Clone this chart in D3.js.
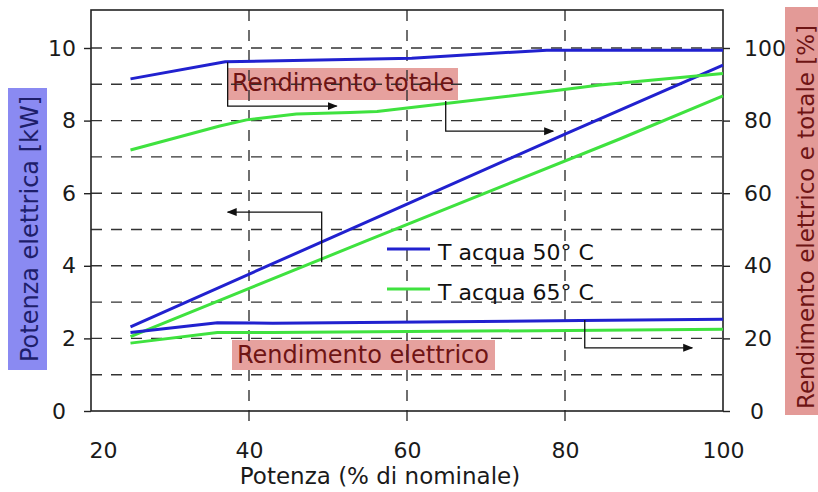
<!DOCTYPE html>
<html>
<head>
<meta charset="utf-8">
<script src="https://cdn.jsdelivr.net/npm/d3@7"></script>
<style>
  body { margin: 0; background: #fff; }
  svg { display: block; font-family: "DejaVu Sans", sans-serif; }
</style>
</head>
<body>
<svg id="chart" width="818" height="492"></svg>
<script>
// Axis ticks
const xTicks = [20, 40, 60, 80, 100];
const kwTicks = [0, 2, 4, 6, 8, 10];
const pctTicks = [0, 20, 40, 60, 80, 100];
const gridKw = [1, 2, 3, 4, 5, 6, 7, 8, 9, 10];
const gridPct = [40, 60, 80];

const seriesNames = ['T acqua 50° C', 'T acqua 65° C'];

// Potenza elettrica [kW] vs potenza (% di nominale)
const power50 = [[25, 2.32], [60, 5.7], [80, 7.63], [100, 9.53]];
const power65 = [[25, 2.05], [55, 4.7], [87, 7.5], [100, 8.68]];

// Rendimento totale [%]
const total50 = [[25, 91.5], [37, 96.2], [60.6, 97.2], [77.7, 99.4], [100, 99.4]];
const total65 = [[25, 71.9], [36.3, 78.5], [39.7, 80.2], [46, 81.8], [52.8, 82.2],
                 [56.2, 82.5], [79.4, 88.4], [84.4, 89.8], [100, 93.0]];

// Rendimento elettrico [%]
const elec50 = [[25, 21.6], [36, 24.3], [43, 24.2], [82, 24.9], [100, 25.3]];
const elec65 = [[25, 18.7], [36, 21.6], [43, 21.6], [100, 22.5]];

// Annotation arrows, in data units (x in %, y in kW)
const arrowTotale50 = [[37.3, 9.61], [37.3, 8.40], [51.1, 8.40]];
const arrowTotale65 = [[64.9, 8.54], [64.9, 7.71], [78.5, 7.71]];
const arrowPotenza  = [[49.2, 4.10], [49.2, 5.48], [37.3, 5.48]];
const arrowElettr   = [[82.5, 2.51], [82.5, 1.74], [96.1, 1.74]];

const blue = '#2121cf';
const green = '#3fe23f';

const svg = d3.select('#chart');

const x = d3.scaleLinear().domain([20, 100]).range([91, 723]);
const y = d3.scaleLinear().domain([0, 10]).range([411, 48]);
const yR = d3.scaleLinear().domain([0, 100]).range([411, 48]);
const plotTop = 10;

// Axis title boxes
svg.append('rect').attr('x', 8).attr('y', 88).attr('width', 39).attr('height', 282)
  .attr('fill', '#8a8af2');
svg.append('text').attr('transform', 'translate(38,229) rotate(-90)')
  .attr('text-anchor', 'middle').attr('font-size', 24).attr('fill', '#1e1e6a')
  .text('Potenza elettrica [kW]');

svg.append('rect').attr('x', 785).attr('y', 7).attr('width', 40).attr('height', 408)
  .attr('fill', '#e39a97');
svg.append('text').attr('transform', 'translate(814,217) rotate(-90)')
  .attr('text-anchor', 'middle').attr('font-size', 23).attr('fill', '#6e1414')
  .text('Rendimento elettrico e totale [%]');

// Annotation boxes (drawn under the grid, as in the original)
svg.append('rect').attr('x', 227).attr('y', 68).attr('width', 231).attr('height', 32)
  .attr('fill', '#e6a19e');
svg.append('rect').attr('x', 232).attr('y', 340).attr('width', 263).attr('height', 30)
  .attr('fill', '#e6a19e');

// Dashed grid
svg.append('g').selectAll('line').data(gridKw).join('line')
  .attr('x1', x(20)).attr('x2', x(100))
  .attr('y1', d => y(d)).attr('y2', d => y(d))
  .attr('stroke', '#333').attr('stroke-width', 1.4).attr('stroke-dasharray', '11,9');
svg.append('g').selectAll('line').data(gridPct).join('line')
  .attr('x1', d => x(d)).attr('x2', d => x(d))
  .attr('y1', plotTop).attr('y2', 430)
  .attr('stroke', '#333').attr('stroke-width', 1.4).attr('stroke-dasharray', '11,9');

// Frame
svg.append('rect').attr('x', x(20)).attr('y', plotTop)
  .attr('width', x(100) - x(20)).attr('height', y(0) - plotTop)
  .attr('fill', 'none').attr('stroke', '#222').attr('stroke-width', 1.6);

// Axes
const tickFont = g => {
  g.select('.domain').remove();
  g.selectAll('line').attr('stroke', '#222').attr('stroke-width', 1.4);
  g.selectAll('text').attr('font-size', 22).attr('fill', '#1a1a1a')
    .attr('font-family', '"DejaVu Sans", sans-serif');
};

svg.append('g').attr('transform', `translate(${x(20)},0)`)
  .call(d3.axisLeft(y).tickValues(kwTicks).tickSize(7).tickPadding(8))
  .call(tickFont)
  .call(g => g.selectAll('.tick').filter(d => d === 0).select('text').attr('dx', -10));

svg.append('g').attr('transform', `translate(${x(100)},0)`)
  .call(d3.axisRight(yR).tickValues(pctTicks).tickSize(7).tickPadding(14))
  .call(tickFont)
  .call(g => g.selectAll('.tick').filter(d => d === 0).select('text').attr('dx', 6));

svg.append('g').attr('transform', `translate(0,${y(0)})`)
  .call(d3.axisBottom(x).tickValues(xTicks).tickSize(0).tickPadding(31))
  .call(tickFont)
  .call(g => g.selectAll('.tick').filter(d => d === 20).select('text').attr('dx', 12));

svg.append('text').attr('x', 380).attr('y', 484).attr('text-anchor', 'middle')
  .attr('font-size', 23).attr('fill', '#1a1a1a').text('Potenza (% di nominale)');

// Curves
const lineKw = d3.line().x(d => x(d[0])).y(d => y(d[1]));
const linePct = d3.line().x(d => x(d[0])).y(d => yR(d[1]));

const curves = [
  {data: power50, gen: lineKw, color: blue},
  {data: power65, gen: lineKw, color: green},
  {data: total50, gen: linePct, color: blue},
  {data: total65, gen: linePct, color: green},
  {data: elec50, gen: linePct, color: blue},
  {data: elec65, gen: linePct, color: green}
];
svg.append('g').selectAll('path').data(curves).join('path')
  .attr('d', d => d.gen(d.data))
  .attr('fill', 'none').attr('stroke', d => d.color)
  .attr('stroke-width', 3).attr('stroke-linejoin', 'round');

// Annotation labels
svg.append('text').attr('x', 232).attr('y', 91).attr('font-size', 24).attr('fill', '#6e1414')
  .text('Rendimento totale');
svg.append('text').attr('x', 237).attr('y', 363).attr('font-size', 24).attr('fill', '#6e1414')
  .text('Rendimento elettrico');

// Arrows
svg.append('defs').append('marker').attr('id', 'head')
  .attr('viewBox', '0 0 10 10').attr('refX', 9).attr('refY', 5)
  .attr('markerWidth', 10).attr('markerHeight', 10).attr('markerUnits', 'userSpaceOnUse')
  .attr('orient', 'auto')
  .append('path').attr('d', 'M0,1L10,5L0,9Z').attr('fill', '#111');

svg.append('g').selectAll('path')
  .data([arrowTotale50, arrowTotale65, arrowPotenza, arrowElettr]).join('path')
  .attr('d', lineKw)
  .attr('fill', 'none').attr('stroke', '#111').attr('stroke-width', 1.3)
  .attr('marker-end', 'url(#head)');

// Legend
const legend = svg.append('g').selectAll('g').data(seriesNames).join('g')
  .attr('transform', (d, i) => `translate(387,${249 + i * 40})`);
legend.append('line').attr('x1', 0).attr('x2', 43)
  .attr('stroke', (d, i) => i === 0 ? blue : green).attr('stroke-width', 3);
legend.append('text').attr('x', 51).attr('y', 11).attr('font-size', 22).attr('fill', '#111')
  .text(d => d);
</script>
</body>
</html>
